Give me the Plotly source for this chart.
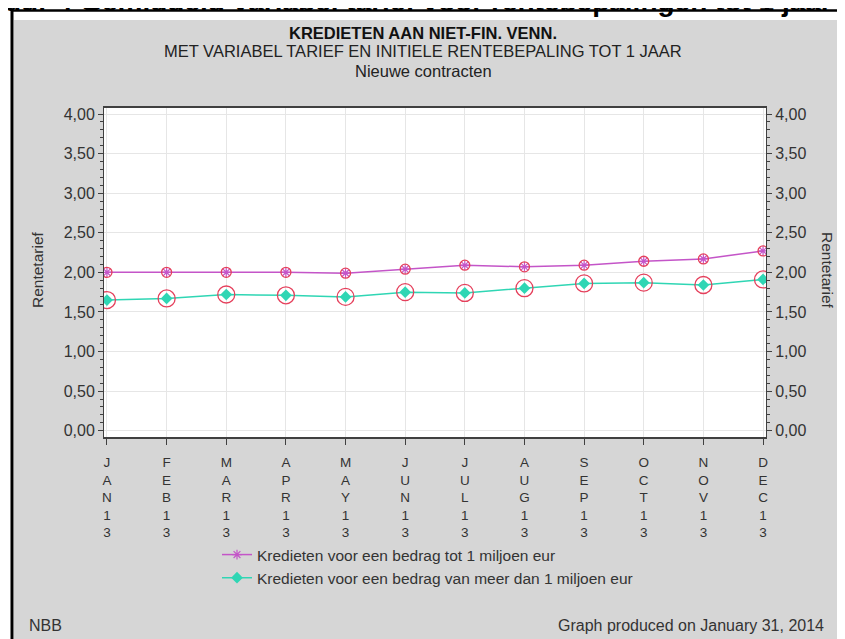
import plotly.graph_objects as go

# ---- data ----
months = ["JAN13", "FEB13", "MAR13", "APR13", "MAY13", "JUN13",
          "JUL13", "AUG13", "SEP13", "OCT13", "NOV13", "DEC13"]
tot_1_miljoen = [2.00, 2.00, 2.00, 2.00, 1.99, 2.04, 2.09, 2.07, 2.09, 2.14, 2.17, 2.27]
meer_dan_1_miljoen = [1.65, 1.67, 1.72, 1.71, 1.69, 1.75, 1.74, 1.80, 1.86, 1.87, 1.84, 1.91]
series_names = ["Kredieten voor een bedrag tot 1 miljoen eur",
                "Kredieten voor een bedrag van meer dan 1 miljoen eur"]
y_ticks = [0, 0.5, 1.0, 1.5, 2.0, 2.5, 3.0, 3.5, 4.0]

# ---- layout geometry (page has an 8px body margin) ----
OFF = 8
W, H = 845 - OFF, 639 - OFF
# plot area in page pixels: x 104..766, y 108..437
ML, MT = 104 - OFF, 108 - OFF
MR = W - (766 - OFF)
MB = H - (437 - OFF)
PW, PH = W - ML - MR, H - MT - MB


def px(xp):
    return (xp - OFF - ML) / PW


def py(yp):
    return (437 - yp) / PH


FONT = "Arial, Liberation Sans, sans-serif"
TXT = "#333333"
MAGENTA = "#c455c8"
TEAL = "#2fd6b4"
RED = "#e5405c"

ticktext = ["<br>".join(list(m)) for m in months]

fig = go.Figure()
fig.add_trace(go.Scatter(
    x=months, y=tot_1_miljoen, name=series_names[0], mode="lines+markers",
    line=dict(color=MAGENTA, width=1.5),
    marker=dict(symbol="asterisk-open", size=8, color=MAGENTA,
                line=dict(color=MAGENTA, width=1.2)),
))
fig.add_trace(go.Scatter(
    x=months, y=meer_dan_1_miljoen, name=series_names[1], mode="lines+markers",
    line=dict(color=TEAL, width=1.5),
    marker=dict(symbol="diamond", size=9, color=TEAL),
))
# red rings (on mirrored right axis)
fig.add_trace(go.Scatter(
    x=months, y=tot_1_miljoen, mode="markers", showlegend=False, yaxis="y2",
    marker=dict(symbol="circle-open", size=10, color=RED, line=dict(width=1.3)),
    hoverinfo="skip",
))
fig.add_trace(go.Scatter(
    x=months, y=meer_dan_1_miljoen, mode="markers", showlegend=False, yaxis="y2",
    marker=dict(symbol="circle-open", size=17, color=RED, line=dict(width=1.3)),
    hoverinfo="skip",
))

yr = [-0.08, 4.076]
yaxis_common = dict(
    range=yr, tickvals=y_ticks, tickformat=".2f", ticks="outside", ticklen=5,
    tickcolor="#404040", tickfont=dict(family=FONT, size=16, color=TXT),
    minor=dict(dtick=0.1, tick0=0, ticks="outside", ticklen=3, tickcolor="#404040", showgrid=False),
    zeroline=False,
)

fig.update_layout(
    width=W, height=H,
    margin=dict(l=ML, r=MR, t=MT, b=MB),
    paper_bgcolor="#d6d6d6", plot_bgcolor="white",
    separators=",.",
    font=dict(family=FONT, color=TXT),
    xaxis=dict(
        type="category", range=[-0.05, 11.05], tickvals=months, ticktext=ticktext,
        ticks="outside", ticklen=6, tickcolor="#404040",
        tickfont=dict(family=FONT, size=13.5, color=TXT), ticklabelstandoff=6,
        showgrid=True, gridcolor="#e6e6e6",
        showline=True, linecolor="#404040", linewidth=1.5, mirror=True,
    ),
    yaxis=dict(**yaxis_common, showgrid=True, gridcolor="#e6e6e6",
               showline=True, linecolor="#404040", linewidth=1, mirror=True),
    yaxis2=dict(**yaxis_common, overlaying="y", side="right", showgrid=False,
                showline=True, linecolor="#404040", linewidth=1),
    showlegend=True,
    legend=dict(x=px(217), y=py(538), xanchor="left", yanchor="top",
                bgcolor="rgba(0,0,0,0)", font=dict(family=FONT, size=15.5, color=TXT),
                tracegroupgap=0, itemwidth=30),
)

shapes = [
    dict(type="rect", xref="paper", yref="paper", x0=px(0), x1=px(14), y0=py(650), y1=py(0),
         fillcolor="white", line=dict(width=0), layer="below"),
    dict(type="rect", xref="paper", yref="paper", x0=px(0), x1=px(850), y0=py(20), y1=py(0),
         fillcolor="white", line=dict(width=0), layer="below"),
    dict(type="line", xref="paper", yref="paper", x0=px(11), x1=px(850), y0=py(10.5), y1=py(10.5),
         line=dict(color="black", width=2.5)),
    dict(type="line", xref="paper", yref="paper", x0=px(12), x1=px(12), y0=py(9.5), y1=py(650),
         line=dict(color="black", width=3)),
]
fig.update_layout(shapes=shapes)

ann = [
    dict(text="<b>Figuur 4 Gemiddeld variabel tarief voor rentebepalingen tot 1 jaar</b>",
         x=px(-40), y=py(1.5), xanchor="left", yanchor="middle",
         font=dict(family=FONT, size=28, color="black")),
    dict(text="<b>KREDIETEN AAN NIET-FIN. VENN.</b>", x=px(423), y=py(33),
         xanchor="center", yanchor="middle", font=dict(family=FONT, size=16.5, color="#111111")),
    dict(text="MET VARIABEL TARIEF EN INITIELE RENTEBEPALING TOT 1 JAAR", x=px(423), y=py(51),
         xanchor="center", yanchor="middle", font=dict(family=FONT, size=16.5, color="#222222")),
    dict(text="Nieuwe contracten", x=px(423), y=py(71),
         xanchor="center", yanchor="middle", font=dict(family=FONT, size=16.5, color="#222222")),
    dict(text="Rentetarief", x=px(37), y=py(270), textangle=-90,
         xanchor="center", yanchor="middle", font=dict(family=FONT, size=15.5, color=TXT)),
    dict(text="Rentetarief", x=px(828), y=py(270), textangle=90,
         xanchor="center", yanchor="middle", font=dict(family=FONT, size=15.5, color=TXT)),
    dict(text="NBB", x=px(27), y=py(625), xanchor="left", yanchor="middle",
         font=dict(family=FONT, size=16, color=TXT)),
    dict(text="Graph produced on January 31, 2014", x=px(826), y=py(625),
         xanchor="right", yanchor="middle", font=dict(family=FONT, size=16, color=TXT)),
]
for a in ann:
    a.update(xref="paper", yref="paper", showarrow=False)
fig.update_layout(annotations=ann)

fig.write_html("out.html")
